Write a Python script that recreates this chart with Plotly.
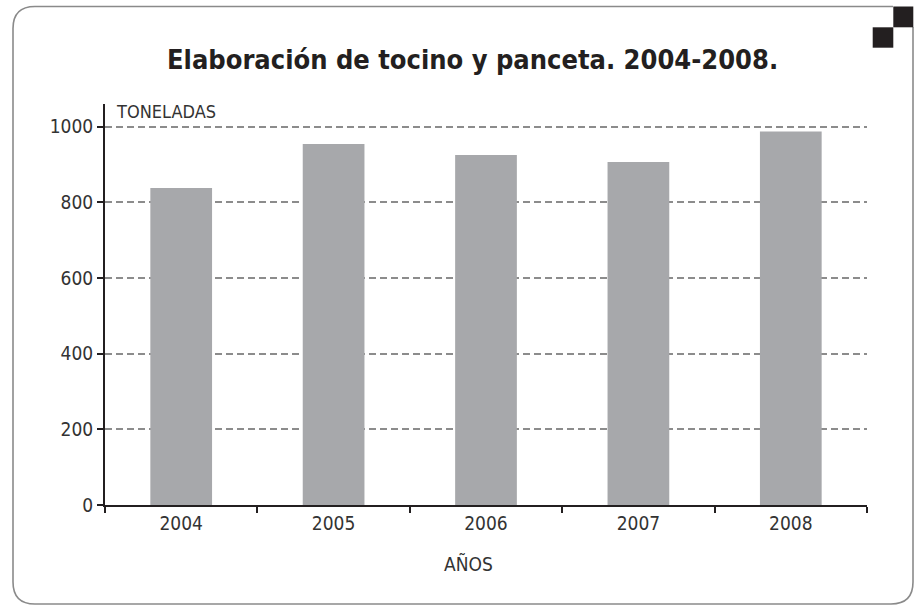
import plotly.graph_objects as go

years = ["2004", "2005", "2006", "2007", "2008"]
toneladas = [838, 954, 925, 907, 987]
y_ticks = [0, 200, 400, 600, 800, 1000]

W, H = 919, 606
L, R, T, B = 105, 52, 104, 101
PW, PH = W - L - R, H - T - B

def px(x):
    return (x - L) / PW

def py(y):
    return (H - B - y) / PH

FONT = "'DejaVu Sans Condensed', 'Liberation Sans Narrow', sans-serif"

fig = go.Figure()
fig.add_trace(go.Bar(
    x=years, y=toneladas,
    marker=dict(color="#a7a8ab", line=dict(width=0)),
    width=0.405,
    hoverinfo="skip",
))

# rounded border path (paper coords)
x0, x1, y0, y1, r = 13, 913, 6.5, 604, 22
path = (
    f"M {px(x0+r)},{py(y0)} L {px(893)},{py(y0)} "
    f"M {px(x1)},{py(27)} L {px(x1)},{py(y1-r)} "
    f"Q {px(x1)},{py(y1)} {px(x1-r)},{py(y1)} "
    f"L {px(x0+r)},{py(y1)} "
    f"Q {px(x0)},{py(y1)} {px(x0)},{py(y1-r)} "
    f"L {px(x0)},{py(y0+r)} "
    f"Q {px(x0)},{py(y0)} {px(x0+r)},{py(y0)}"
)
shapes = [
    dict(type="path", xref="paper", yref="paper", path=path,
         line=dict(color="#8a8a8a", width=1.6), layer="below"),
    dict(type="rect", xref="paper", yref="paper",
         x0=px(893.3), x1=px(913.3), y0=py(27.3), y1=py(6.5),
         fillcolor="#231f20", line=dict(width=0)),
    dict(type="rect", xref="paper", yref="paper",
         x0=px(872.7), x1=px(893.3), y0=py(47.7), y1=py(27.3),
         fillcolor="#231f20", line=dict(width=0)),
]

annotations = [
    dict(text="<b>Elaboración de tocino y panceta. 2004-2008.</b>",
         xref="paper", yref="paper", x=px(472), y=py(60),
         xanchor="center", yanchor="middle", showarrow=False,
         font=dict(family=FONT, size=27, color="#231f20")),
    dict(text="TONELADAS", xref="paper", yref="paper",
         x=px(114), y=py(112), xanchor="left", yanchor="middle",
         showarrow=False, font=dict(family=FONT, size=18, color="#333")),
    dict(text="AÑOS", xref="paper", yref="paper",
         x=px(468), y=py(564), xanchor="center", yanchor="middle",
         showarrow=False, font=dict(family=FONT, size=19, color="#333")),
]

fig.update_layout(
    width=W, height=H,
    margin=dict(l=L, r=R, t=T, b=B, pad=0),
    paper_bgcolor="white", plot_bgcolor="white",
    showlegend=False,
    shapes=shapes, annotations=annotations,
    font=dict(family=FONT, size=19, color="#333"),
    xaxis=dict(
        type="category", showline=True, linecolor="#231f20", linewidth=2,
        ticks="outside", tickson="boundaries", ticklen=6, tickwidth=2,
        tickcolor="#231f20", showgrid=False, zeroline=False,
        tickfont=dict(family=FONT, size=19, color="#333"),
        range=[-0.5, 4.5],
    ),
    yaxis=dict(
        range=[0, 1060], tickvals=y_ticks, showline=True,
        linecolor="#231f20", linewidth=2, ticks="outside", ticklen=6,
        tickwidth=1.5, tickcolor="#231f20",
        showgrid=True, gridcolor="#8c8c8c", gridwidth=1.5, griddash="7px,4px",
        zeroline=False,
        tickfont=dict(family=FONT, size=19, color="#333"),
    ),
    bargap=0.6,
)

fig.write_html("out.html",
               config={"displayModeBar": False},
               post_script="document.body.style.margin='0';document.body.style.padding='0';")
